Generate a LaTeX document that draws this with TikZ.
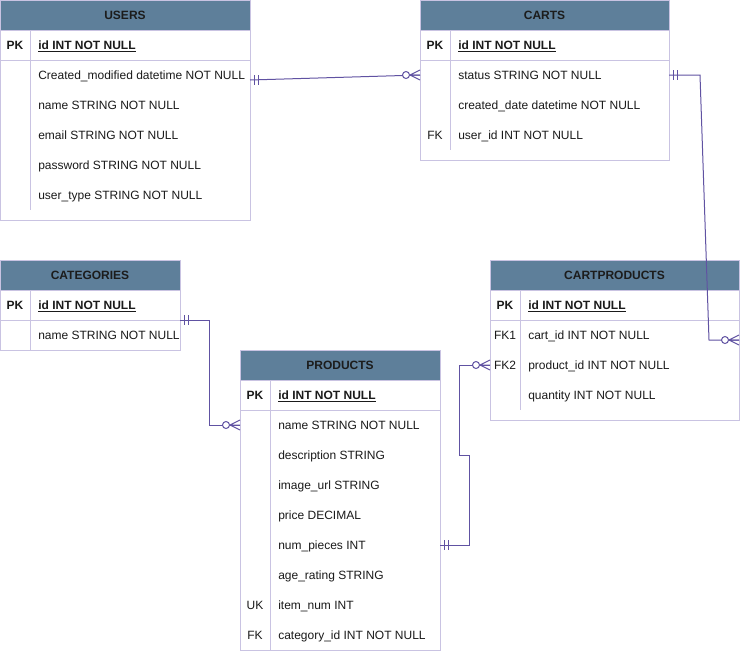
\documentclass[tikz,border=0pt]{standalone}
\usepackage{fontspec}
\setmainfont{Liberation Sans}
\usetikzlibrary{calc}
\newlength\px
\setlength\px{0.75pt}
\definecolor{headfill}{HTML}{5E7F9A}
\definecolor{headtext}{HTML}{1C1C1C}
\definecolor{bordercol}{HTML}{C9C3E2}
\definecolor{conncol}{HTML}{6052A2}
\definecolor{rowtext}{HTML}{1A1A1A}
\tikzset{
  box/.style={draw=bordercol, line width=1\px, fill=white, rectangle, inner sep=0pt, outer sep=0pt, anchor=north west},
  head/.style={draw=bordercol, line width=1\px, fill=headfill, rectangle, inner sep=0pt, outer sep=0pt, anchor=north west, minimum height=30\px, text=headtext, font=\fontsize{9}{11}\selectfont\bfseries},
  txt/.style={inner sep=0pt, text height=6.5pt, text depth=0pt, text=rowtext},
  headtxt/.style={txt, text=headtext, font=\fontsize{9}{11}\selectfont\bfseries},
  keytxt/.style={txt, font=\fontsize{9}{11}\selectfont},
  pktxt/.style={txt, font=\fontsize{9}{11}\selectfont\bfseries},
  fieldtxt/.style={txt, anchor=west, font=\fontsize{9}{11}\selectfont},
  pkfield/.style={txt, anchor=west, font=\fontsize{9}{11}\selectfont\bfseries},
  sepline/.style={draw=bordercol, line width=1\px},
  conn/.style={draw=conncol, line width=1\px},
}
% #1 coordinate, #2 direction sign (1 = decoration to the right of the point, -1 = to the left)
\newcommand\mandone[2]{%
  \draw[conn] ($(#1)+(#2*4,-5)$) -- ($(#1)+(#2*4,5)$)
              ($(#1)+(#2*8,-5)$) -- ($(#1)+(#2*8,5)$);}
\newcommand\zeromany[2]{%
  \draw[conn] ($(#1)+(#2*10,0)$) -- ($(#1)+(0,-5)$)
              ($(#1)+(#2*10,0)$) -- ($(#1)+(0,5)$)
              ($(#1)+(#2*10,0)$) -- (#1);
  \draw[conn, fill=white] ($(#1)+(#2*14,0)$) circle[radius=3.5\px];}
\begin{document}
\begin{tikzpicture}[x=0.75pt, y=-0.75pt]
\useasboundingbox (0,0) rectangle (749,651);

% ---------------- USERS ----------------
\node[box, minimum width=250\px, minimum height=220\px] (users) at (0,0) {};
\node[head, minimum width=250\px] (users-h) at (0,0) {};
\node[headtxt] (users-t) at (125,15) {USERS};
\draw[sepline] (0,60) -- (250,60);
\draw[sepline] (30,30) -- (30,210);
\node[pktxt] (users-k1) at (15,45) {PK};
\node[pkfield] (users-f1) at (38,45) {\underline{id INT NOT NULL}};
\node[fieldtxt] (users-f2) at (38,75) {Created\_modified datetime NOT NULL};
\node[fieldtxt] (users-f3) at (38,105) {name STRING NOT NULL};
\node[fieldtxt] (users-f4) at (38,135) {email STRING NOT NULL};
\node[fieldtxt] (users-f5) at (38,165) {password STRING NOT NULL};
\node[fieldtxt] (users-f6) at (38,195) {user\_type STRING NOT NULL};

% ---------------- CARTS ----------------
\node[box, minimum width=249\px, minimum height=160\px] (carts) at (420,0) {};
\node[head, minimum width=249\px] (carts-h) at (420,0) {};
\node[headtxt] (carts-t) at (544.5,15) {CARTS};
\draw[sepline] (420,60) -- (669,60);
\draw[sepline] (450,30) -- (450,150);
\node[pktxt] (carts-k1) at (435,45) {PK};
\node[pkfield] (carts-f1) at (458,45) {\underline{id INT NOT NULL}};
\node[fieldtxt] (carts-f2) at (458,75) {status STRING NOT NULL};
\node[fieldtxt] (carts-f3) at (458,105) {created\_date datetime NOT NULL};
\node[keytxt] (carts-k4) at (435,135) {FK};
\node[fieldtxt] (carts-f4) at (458,135) {user\_id INT NOT NULL};

% ---------------- CATEGORIES ----------------
\node[box, minimum width=180\px, minimum height=90\px] (cat) at (0,260) {};
\node[head, minimum width=180\px] (cat-h) at (0,260) {};
\node[headtxt] (cat-t) at (90,275) {CATEGORIES};
\draw[sepline] (0,320) -- (180,320);
\draw[sepline] (30,290) -- (30,350);
\node[pktxt] (cat-k1) at (15,305) {PK};
\node[pkfield] (cat-f1) at (38,305) {\underline{id INT NOT NULL}};
\node[fieldtxt] (cat-f2) at (38,335) {name STRING NOT NULL};

% ---------------- PRODUCTS ----------------
\node[box, minimum width=200\px, minimum height=300\px] (prod) at (240,350) {};
\node[head, minimum width=200\px] (prod-h) at (240,350) {};
\node[headtxt] (prod-t) at (340,365) {PRODUCTS};
\draw[sepline] (240,410) -- (440,410);
\draw[sepline] (270,380) -- (270,650);
\node[pktxt] (prod-k1) at (255,395) {PK};
\node[pkfield] (prod-f1) at (278,395) {\underline{id INT NOT NULL}};
\node[fieldtxt] (prod-f2) at (278,425) {name STRING NOT NULL};
\node[fieldtxt] (prod-f3) at (278,455) {description STRING};
\node[fieldtxt] (prod-f4) at (278,485) {image\_url STRING};
\node[fieldtxt] (prod-f5) at (278,515) {price DECIMAL};
\node[fieldtxt] (prod-f6) at (278,545) {num\_pieces INT};
\node[fieldtxt] (prod-f7) at (278,575) {age\_rating STRING};
\node[keytxt] (prod-k8) at (255,605) {UK};
\node[fieldtxt] (prod-f8) at (278,605) {item\_num INT};
\node[keytxt] (prod-k9) at (255,635) {FK};
\node[fieldtxt] (prod-f9) at (278,635) {category\_id INT NOT NULL};

% ---------------- CARTPRODUCTS ----------------
\node[box, minimum width=249\px, minimum height=160\px] (cp) at (490,260) {};
\node[head, minimum width=249\px] (cp-h) at (490,260) {};
\node[headtxt] (cp-t) at (614.5,275) {CARTPRODUCTS};
\draw[sepline] (490,320) -- (739,320);
\draw[sepline] (520,290) -- (520,410);
\node[pktxt] (cp-k1) at (505,305) {PK};
\node[pkfield] (cp-f1) at (528,305) {\underline{id INT NOT NULL}};
\node[keytxt] (cp-k2) at (505,335) {FK1};
\node[fieldtxt] (cp-f2) at (528,335) {cart\_id INT NOT NULL};
\node[keytxt] (cp-k3) at (505,365) {FK2};
\node[fieldtxt] (cp-f3) at (528,365) {product\_id INT NOT NULL};
\node[fieldtxt] (cp-f4) at (528,395) {quantity INT NOT NULL};

% ---------------- connector end points ----------------
\coordinate (e1a) at ($(users.north east)+(0,80)$);
\coordinate (e1b) at ($(carts.north west)+(0,75)$);
\coordinate (e2a) at ($(carts.north east)+(0,75)$);
\coordinate (e2b) at ($(cp.north east)+(0,80)$);
\coordinate (e3a) at ($(cat.north east)+(0,60)$);
\coordinate (e3b) at ($(prod.north west)+(0,75)$);
\coordinate (e4a) at ($(prod.north east)+(0,195)$);
\coordinate (e4b) at ($(cp.north west)+(0,105)$);

% ---------------- connectors ----------------
\draw[conn] (e1a) -- (e1b);
\draw[conn] (e2a) -- ++(31,0) -- ($(e2b)+(-30,0)$) -- (e2b);
\draw[conn] (e3a) -- ++(29,0) |- (e3b);
\draw[conn] (e4a) -- ++(29,0) -- ++(0,-90) -- ++(-10,0) |- (e4b);

\mandone{e1a}{1}
\zeromany{e1b}{-1}
\mandone{e2a}{1}
\zeromany{e2b}{-1}
\mandone{e3a}{1}
\zeromany{e3b}{-1}
\mandone{e4a}{1}
\zeromany{e4b}{-1}
\end{tikzpicture}
\end{document}
